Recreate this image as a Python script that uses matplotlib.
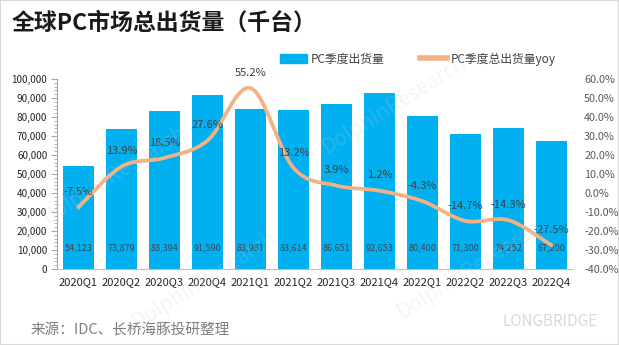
import matplotlib
matplotlib.use('Agg')
import matplotlib.pyplot as plt
from matplotlib.path import Path
from matplotlib.patches import PathPatch, Rectangle
from matplotlib.lines import Line2D
from matplotlib.ticker import FuncFormatter, MultipleLocator

plt.rcParams['font.family'] = ['Noto Sans CJK SC', 'DejaVu Sans']

# 数据
quarters = ['2020Q1', '2020Q2', '2020Q3', '2020Q4', '2021Q1', '2021Q2',
            '2021Q3', '2021Q4', '2022Q1', '2022Q2', '2022Q3', '2022Q4']
shipments = [54123, 73879, 83394, 91590, 83981, 83614,
             86651, 92653, 80400, 71300, 74252, 67200]
yoy = [-7.5, 13.9, 18.5, 27.6, 55.2, 13.2, 3.9, 1.2, -4.3, -14.7, -14.3, -27.5]

bar_color = '#00B0F0'
line_color = '#F4B183'
text_color = '#404040'


def smooth_path(xs, ys):
    # 类似Excel的平滑线（Catmull-Rom转贝塞尔）
    n = len(xs)
    verts = [(xs[0], ys[0])]
    codes = [Path.MOVETO]
    for i in range(n - 1):
        x0, y0 = (xs[i - 1], ys[i - 1]) if i > 0 else (xs[i], ys[i])
        x3, y3 = (xs[i + 2], ys[i + 2]) if i + 2 < n else (xs[i + 1], ys[i + 1])
        c1 = (xs[i] + (xs[i + 1] - x0) / 6, ys[i] + (ys[i + 1] - y0) / 6)
        c2 = (xs[i + 1] - (x3 - xs[i]) / 6, ys[i + 1] - (y3 - ys[i]) / 6)
        verts += [c1, c2, (xs[i + 1], ys[i + 1])]
        codes += [Path.CURVE4] * 3
    return Path(verts, codes)


fig = plt.figure(figsize=(6.19, 3.45), dpi=100)
ax = fig.add_axes([57 / 619, 1 - 269 / 345, (573 - 57) / 619, (269 - 79) / 345])
ax2 = ax.twinx()

x = list(range(len(quarters)))

# 柱状图
ax.bar(x, shipments, width=0.7, color=bar_color, zorder=2)
for xi, v in zip(x, shipments):
    ax.text(xi, 11000, f'{v:,}', ha='center', va='center', fontsize=6.5,
            color='#3A4A5A', zorder=5)

ax.set_xlim(-0.5, len(quarters) - 0.5)
ax.set_ylim(0, 100000)
ax.yaxis.set_major_locator(MultipleLocator(10000))
ax.yaxis.set_minor_locator(MultipleLocator(2000))
ax.yaxis.set_major_formatter(FuncFormatter(lambda v, p: f'{int(v):,}'))
ax.set_xticks(x)
ax.set_xticklabels(quarters)
ax.tick_params(axis='x', length=0, labelsize=8, labelcolor='#262626', pad=6)
ax.tick_params(axis='y', which='major', length=4, color='#A6A6A6',
               labelsize=7.2, labelcolor='#262626', pad=3)
ax.tick_params(axis='y', which='minor', length=2.5, color='#A6A6A6')

for s in ['top', 'right']:
    ax.spines[s].set_visible(False)
ax.spines['left'].set_color('#A6A6A6')
ax.spines['bottom'].set_color('#BFBFBF')

# 折线（平滑）
ax2.set_ylim(-40, 60)
ax2.yaxis.set_major_locator(MultipleLocator(10))
ax2.yaxis.set_major_formatter(FuncFormatter(lambda v, p: f'{v:.1f}%'))
ax2.tick_params(axis='y', length=0, labelsize=7.8, labelcolor='#595959', pad=8)
for s in ['top', 'right', 'left', 'bottom']:
    ax2.spines[s].set_visible(False)

patch = PathPatch(smooth_path(x, yoy), facecolor='none', edgecolor=line_color,
                  lw=2.7, capstyle='round', joinstyle='round', zorder=3)
ax2.add_patch(patch)
for xi, v in zip(x, yoy):
    ax2.annotate(f'{v:.1f}%', (xi, v), xytext=(0, 11), textcoords='offset points',
                 ha='center', va='center', fontsize=8, color=text_color, zorder=5)

# 图例
handles = [Rectangle((0, 0), 1, 1, color=bar_color),
           Line2D([0], [0], color=line_color, lw=4)]
fig.legend(handles, ['PC季度出货量', 'PC季度总出货量yoy'], loc='center',
           bbox_to_anchor=(418 / 619, 1 - 59 / 345), ncol=2, frameon=False,
           fontsize=8.5, handlelength=2.3, handleheight=0.8, handletextpad=0.3,
           columnspacing=3.0, labelcolor=text_color)

# 标题和来源
fig.text(12 / 619, 1 - 23 / 345, '全球PC市场总出货量（千台）', fontsize=16.5,
         fontweight='bold', color='#1A1A1A', ha='left', va='center')
fig.text(31 / 619, 1 - 330 / 345, '来源：IDC、长桥海豚投研整理', fontsize=10.5,
         color='#7F7F7F', ha='left', va='center')

# 水印
fig.text(550 / 619, 1 - 322 / 345, 'LONGBRIDGE', fontsize=11, color='#D9D9D9',
         ha='center', va='center')
for wx, wy in [(115, 175), (395, 105), (205, 280), (470, 270)]:
    fig.text(wx / 619, 1 - wy / 345, 'DolphinResearch', fontsize=15, rotation=32,
             color='#D0D0D0', alpha=0.2, ha='center', va='center', zorder=10)

# 边框
fig.patches.append(Rectangle((0, 0), 1, 1, transform=fig.transFigure, fill=False,
                             edgecolor='#D9D9D9', lw=1.5))

fig.savefig('out.png', dpi=100)
